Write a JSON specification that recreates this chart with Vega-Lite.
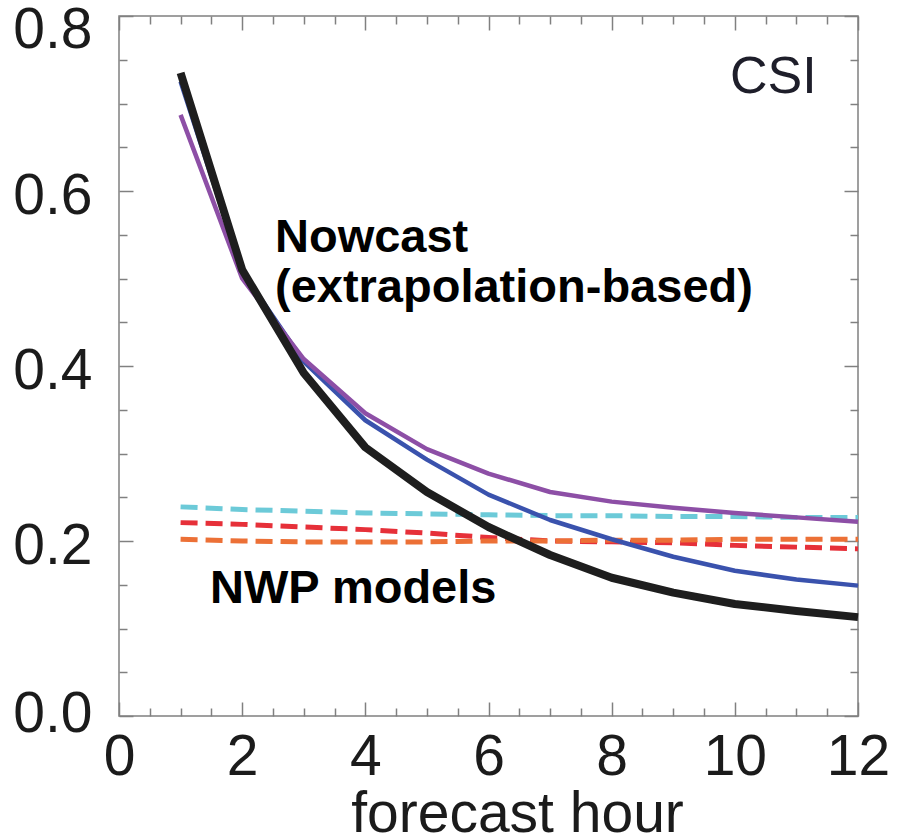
{
  "$schema": "https://vega.github.io/schema/vega-lite/v6.json",
  "width": 739,
  "height": 700,
  "autosize": {"type": "none"},
  "padding": {"left": 119, "top": 16, "right": 46, "bottom": 120},
  "background": "white",
  "config": {
    "view": {"stroke": "#808080", "strokeWidth": 1.5},
    "axis": {"domain": false, "grid": false, "labelFont": "Liberation Sans", "titleFont": "Liberation Sans", "labelColor": "#1b1b1b", "titleColor": "#1b1b1b", "tickColor": "#808080", "tickWidth": 1.5, "labelFlush": false, "labelOverlap": false}
  },
  "datasets": {
    "curves": [
      {"hour": 1, "csi": 0.735, "series": "nowcast A"},
      {"hour": 2, "csi": 0.51, "series": "nowcast A"},
      {"hour": 3, "csi": 0.392, "series": "nowcast A"},
      {"hour": 4, "csi": 0.307, "series": "nowcast A"},
      {"hour": 5, "csi": 0.256, "series": "nowcast A"},
      {"hour": 6, "csi": 0.216, "series": "nowcast A"},
      {"hour": 7, "csi": 0.184, "series": "nowcast A"},
      {"hour": 8, "csi": 0.158, "series": "nowcast A"},
      {"hour": 9, "csi": 0.141, "series": "nowcast A"},
      {"hour": 10, "csi": 0.128, "series": "nowcast A"},
      {"hour": 11, "csi": 0.12, "series": "nowcast A"},
      {"hour": 12, "csi": 0.113, "series": "nowcast A"},
      {"hour": 1, "csi": 0.725, "series": "nowcast B"},
      {"hour": 2, "csi": 0.508, "series": "nowcast B"},
      {"hour": 3, "csi": 0.405, "series": "nowcast B"},
      {"hour": 4, "csi": 0.338, "series": "nowcast B"},
      {"hour": 5, "csi": 0.293, "series": "nowcast B"},
      {"hour": 6, "csi": 0.253, "series": "nowcast B"},
      {"hour": 7, "csi": 0.224, "series": "nowcast B"},
      {"hour": 8, "csi": 0.202, "series": "nowcast B"},
      {"hour": 9, "csi": 0.182, "series": "nowcast B"},
      {"hour": 10, "csi": 0.166, "series": "nowcast B"},
      {"hour": 11, "csi": 0.156, "series": "nowcast B"},
      {"hour": 12, "csi": 0.149, "series": "nowcast B"},
      {"hour": 1, "csi": 0.687, "series": "nowcast C"},
      {"hour": 2, "csi": 0.5, "series": "nowcast C"},
      {"hour": 3, "csi": 0.408, "series": "nowcast C"},
      {"hour": 4, "csi": 0.346, "series": "nowcast C"},
      {"hour": 5, "csi": 0.305, "series": "nowcast C"},
      {"hour": 6, "csi": 0.277, "series": "nowcast C"},
      {"hour": 7, "csi": 0.256, "series": "nowcast C"},
      {"hour": 8, "csi": 0.245, "series": "nowcast C"},
      {"hour": 9, "csi": 0.238, "series": "nowcast C"},
      {"hour": 10, "csi": 0.232, "series": "nowcast C"},
      {"hour": 11, "csi": 0.227, "series": "nowcast C"},
      {"hour": 12, "csi": 0.222, "series": "nowcast C"},
      {"hour": 1, "csi": 0.239, "series": "NWP 1"},
      {"hour": 2, "csi": 0.236, "series": "NWP 1"},
      {"hour": 3, "csi": 0.234, "series": "NWP 1"},
      {"hour": 4, "csi": 0.232, "series": "NWP 1"},
      {"hour": 5, "csi": 0.231, "series": "NWP 1"},
      {"hour": 6, "csi": 0.23, "series": "NWP 1"},
      {"hour": 7, "csi": 0.229, "series": "NWP 1"},
      {"hour": 8, "csi": 0.229, "series": "NWP 1"},
      {"hour": 9, "csi": 0.228, "series": "NWP 1"},
      {"hour": 10, "csi": 0.228, "series": "NWP 1"},
      {"hour": 11, "csi": 0.227, "series": "NWP 1"},
      {"hour": 12, "csi": 0.227, "series": "NWP 1"},
      {"hour": 1, "csi": 0.221, "series": "NWP 2"},
      {"hour": 2, "csi": 0.219, "series": "NWP 2"},
      {"hour": 3, "csi": 0.216, "series": "NWP 2"},
      {"hour": 4, "csi": 0.213, "series": "NWP 2"},
      {"hour": 5, "csi": 0.209, "series": "NWP 2"},
      {"hour": 6, "csi": 0.204, "series": "NWP 2"},
      {"hour": 7, "csi": 0.2, "series": "NWP 2"},
      {"hour": 8, "csi": 0.199, "series": "NWP 2"},
      {"hour": 9, "csi": 0.198, "series": "NWP 2"},
      {"hour": 10, "csi": 0.195, "series": "NWP 2"},
      {"hour": 11, "csi": 0.193, "series": "NWP 2"},
      {"hour": 12, "csi": 0.191, "series": "NWP 2"},
      {"hour": 1, "csi": 0.202, "series": "NWP 3"},
      {"hour": 2, "csi": 0.2, "series": "NWP 3"},
      {"hour": 3, "csi": 0.199, "series": "NWP 3"},
      {"hour": 4, "csi": 0.199, "series": "NWP 3"},
      {"hour": 5, "csi": 0.199, "series": "NWP 3"},
      {"hour": 6, "csi": 0.2, "series": "NWP 3"},
      {"hour": 7, "csi": 0.2, "series": "NWP 3"},
      {"hour": 8, "csi": 0.201, "series": "NWP 3"},
      {"hour": 9, "csi": 0.201, "series": "NWP 3"},
      {"hour": 10, "csi": 0.202, "series": "NWP 3"},
      {"hour": 11, "csi": 0.202, "series": "NWP 3"},
      {"hour": 12, "csi": 0.202, "series": "NWP 3"}
    ],
    "boldNotes": [
      {"hour": 2.533, "csi": 0.53, "label": "Nowcast"},
      {"hour": 2.533, "csi": 0.473, "label": "(extrapolation-based)"},
      {"hour": 1.478, "csi": 0.129, "label": "NWP models"}
    ],
    "plainNotes": [
      {"hour": 9.92, "csi": 0.712, "label": "CSI"}
    ]
  },
  "resolve": {"axis": {"x": "independent", "y": "independent"}},
  "layer": [
    {
      "data": {"name": "curves"},
      "transform": [{"filter": {"field": "series", "oneOf": ["NWP 1", "NWP 2", "NWP 3"]}}],
      "mark": {"type": "line", "strokeWidth": 5, "strokeDash": [17, 8], "strokeCap": "butt"},
      "encoding": {
        "x": {"field": "hour", "type": "quantitative", "scale": {"domain": [0, 12], "nice": false, "zero": false},
              "axis": {"orient": "bottom", "values": [0, 2, 4, 6, 8, 10, 12], "ticks": false, "labelFontSize": 57, "labelPadding": 13, "title": "forecast hour", "titleFontSize": 57, "titleFontWeight": "normal", "titleBaseline": "alphabetic", "titleY": 115, "titleX": 398, "titleAlign": "center", "titleAnchor": null}},
        "y": {"field": "csi", "type": "quantitative", "scale": {"domain": [0, 0.8], "nice": false, "zero": false},
              "axis": {"orient": "left", "values": [0, 0.2, 0.4, 0.6, 0.8], "format": ".1f", "ticks": false, "labelFontSize": 57, "labelPadding": 27, "title": null,
                       "labelOffset": {"condition": [{"test": "datum.value >= 0.79", "value": 14}, {"test": "datum.value <= 0.01", "value": -2}], "value": 5}}},
        "color": {"field": "series", "type": "nominal", "legend": null,
                  "scale": {"domain": ["nowcast A", "nowcast B", "nowcast C", "NWP 1", "NWP 2", "NWP 3"],
                            "range": ["#1e1e1e", "#3a52ad", "#8d4fa6", "#6ccad8", "#e63039", "#ec7036"]}},
        "detail": {"field": "series"}
      }
    },
    {
      "data": {"name": "curves"},
      "transform": [{"filter": {"field": "series", "oneOf": ["nowcast B", "nowcast C"]}}],
      "mark": {"type": "line", "strokeWidth": 4.5, "strokeJoin": "round"},
      "encoding": {
        "x": {"field": "hour", "type": "quantitative",
              "axis": {"orient": "bottom", "values": [0, 2, 4, 6, 8, 10, 12], "labels": false, "tickSize": -14, "title": null}},
        "y": {"field": "csi", "type": "quantitative",
              "axis": {"orient": "left", "values": [0, 0.2, 0.4, 0.6, 0.8], "labels": false, "tickSize": -14, "title": null}},
        "color": {"field": "series", "type": "nominal", "legend": null}
      }
    },
    {
      "data": {"name": "curves"},
      "transform": [{"filter": {"field": "series", "equal": "nowcast A"}}],
      "mark": {"type": "line", "strokeWidth": 8, "strokeJoin": "round"},
      "encoding": {
        "x": {"field": "hour", "type": "quantitative",
              "axis": {"orient": "bottom", "values": [0.5, 1, 1.5, 2.5, 3, 3.5, 4.5, 5, 5.5, 6.5, 7, 7.5, 8.5, 9, 9.5, 10.5, 11, 11.5], "labels": false, "tickSize": -8, "title": null}},
        "y": {"field": "csi", "type": "quantitative",
              "axis": {"orient": "left", "values": [0.05, 0.1, 0.15, 0.25, 0.3, 0.35, 0.45, 0.5, 0.55, 0.65, 0.7, 0.75], "labels": false, "tickSize": -8, "title": null}},
        "color": {"field": "series", "type": "nominal", "legend": null}
      }
    },
    {
      "data": {"name": "boldNotes"},
      "mark": {"type": "text", "font": "Liberation Sans", "fontWeight": "bold", "fontSize": 47, "align": "left", "baseline": "alphabetic", "color": "#000000"},
      "encoding": {
        "x": {"field": "hour", "type": "quantitative",
              "axis": {"orient": "top", "values": [0, 2, 4, 6, 8, 10, 12], "labels": false, "tickSize": -14, "title": null}},
        "y": {"field": "csi", "type": "quantitative",
              "axis": {"orient": "right", "values": [0, 0.2, 0.4, 0.6, 0.8], "labels": false, "tickSize": -14, "title": null}},
        "text": {"field": "label"}
      }
    },
    {
      "data": {"name": "plainNotes"},
      "mark": {"type": "text", "font": "Liberation Sans", "fontSize": 52, "align": "left", "baseline": "alphabetic", "color": "#1e1e2a"},
      "encoding": {
        "x": {"field": "hour", "type": "quantitative",
              "axis": {"orient": "top", "values": [0.5, 1, 1.5, 2.5, 3, 3.5, 4.5, 5, 5.5, 6.5, 7, 7.5, 8.5, 9, 9.5, 10.5, 11, 11.5], "labels": false, "tickSize": -8, "title": null}},
        "y": {"field": "csi", "type": "quantitative",
              "axis": {"orient": "right", "values": [0.05, 0.1, 0.15, 0.25, 0.3, 0.35, 0.45, 0.5, 0.55, 0.65, 0.7, 0.75], "labels": false, "tickSize": -8, "title": null}},
        "text": {"field": "label"}
      }
    }
  ]
}
